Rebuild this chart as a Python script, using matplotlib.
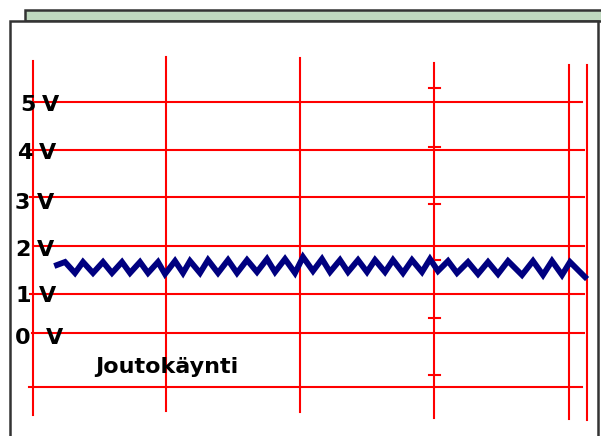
"""
Oskilloskooppikuva: joutokäynnin jännite (zigzag) punaisella ruudukolla.
"""

import matplotlib
matplotlib.use("Agg")
import matplotlib.pyplot as plt
from matplotlib.patches import Rectangle

plt.rcParams["font.family"] = ["DejaVu Sans"]

# Ruudukko (kuvan pikselikoordinaatit)
h_grid_y = [102, 150, 197, 246, 294, 333, 387]
h_grid_x0 = [33, 28, 30, 33, 30, 32, 29]
h_grid_x1 = [582, 584, 584, 584, 584, 584, 582]
v_grid_x = [33, 166, 300, 434, 569, 587]
v_grid_y0 = [61, 57, 58, 63, 65, 65]
v_grid_y1 = [415, 411, 412, 418, 419, 420]
tick_y = [88, 147, 204, 260, 318, 375]

# Jänniteotsikot
volt_digits = ["5", "4", "3", "2", "1", "0"]
digit_x = [20, 17, 15, 15, 16, 15]
unit_x = [42, 39, 37, 37, 39, 46]
label_base = [111, 159, 209, 256, 302, 344]

# Signaali (huiput ja pohjat)
wave_x = [57, 65, 75, 83, 93, 103, 112, 122, 130, 140, 148, 158, 165, 175,
          183, 190, 200, 208, 218, 228, 237, 247, 257, 267, 275, 285, 295,
          303, 313, 322, 330, 340, 348, 358, 367, 375, 385, 393, 403, 412,
          422, 430, 438, 448, 457, 468, 478, 488, 498, 508, 522, 533, 543,
          552, 562, 570, 585]
wave_y = [265, 262, 273, 262, 273, 262, 273, 262, 273, 262, 273, 262, 274, 261,
          273, 261, 273, 260, 273, 260, 273, 260, 272, 259, 272, 259, 273,
          257, 271, 259, 272, 260, 272, 260, 272, 260, 272, 260, 273, 260,
          272, 259, 271, 261, 273, 262, 274, 262, 274, 261, 275, 261, 275,
          261, 275, 262, 277]

fig = plt.figure(figsize=(6.01, 4.36), dpi=100)
ax = fig.add_axes([0, 0, 1, 1])
ax.set_xlim(0, 601)
ax.set_ylim(436, 0)
ax.axis("off")

# kehys
ax.add_patch(Rectangle((25, 10), 600, 11, facecolor="#bfd9bf",
                       edgecolor="#333333", linewidth=1.8, zorder=1))
ax.add_patch(Rectangle((10, 21), 588, 430, facecolor="white",
                       edgecolor="#333333", linewidth=1.8, zorder=1))

red = "#ff0000"
for y, x0, x1 in zip(h_grid_y, h_grid_x0, h_grid_x1):
    ax.plot([x0, x1], [y, y], color=red, lw=1.5, zorder=2)
for x, y0, y1 in zip(v_grid_x, v_grid_y0, v_grid_y1):
    ax.plot([x, x], [y0, y1], color=red, lw=1.5, zorder=2)
for y in tick_y:
    ax.plot([429, 440], [y, y], color=red, lw=1.5, zorder=2)

ax.plot(wave_x, wave_y, color="#000080", lw=4.2, solid_joinstyle="miter",
        zorder=3)

for d, dx, ux, y in zip(volt_digits, digit_x, unit_x, label_base):
    ax.text(dx, y, d, fontsize=16, fontweight="bold", va="baseline",
            ha="left", zorder=4)
    ax.text(ux, y, "V", fontsize=16, fontweight="bold", va="baseline",
            ha="left", zorder=4)

ax.text(95, 373, "Joutokäynti", fontsize=16, fontweight="bold",
        va="baseline", ha="left", zorder=4)

fig.savefig("out.png", dpi=100)
